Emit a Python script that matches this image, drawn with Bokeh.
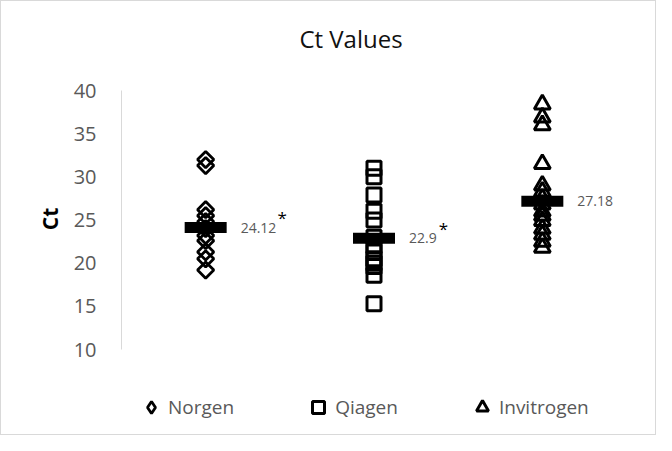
import numpy as np
from bokeh.plotting import figure
from bokeh.models import (Range1d, FactorRange, FixedTicker, Legend, LegendItem,
                          ColumnDataSource)
from bokeh.core.properties import value
from bokeh.embed import file_html
from bokeh.resources import INLINE

# ---- data ----
categories = ["Norgen", "Qiagen", "Invitrogen"]
norgen_ct = [32.0, 31.3, 26.2, 25.5, 24.8, 24.0, 23.2, 22.6, 21.3, 20.5, 19.2]
qiagen_ct = [31.0, 30.0, 27.9, 26.0, 25.0, 23.0, 22.0, 21.3, 20.5, 20.0, 19.6, 18.6, 15.3]
invitrogen_ct = [38.4, 36.9, 36.0, 31.5, 29.0, 28.3, 27.5, 26.8, 26.0, 25.5, 24.9,
                 24.0, 23.3, 22.5, 21.8]
mean_ct = [24.12, 22.9, 27.18]
mean_labels = ["24.12", "22.9", "27.18"]
significance = ["*", "*", ""]
y_ticks = [10, 15, 20, 25, 30, 35, 40]
y_min, y_max = 10, 40
chart_title = "Ct Values"

FONT = "Open Sans"
GRAY = "#595959"

# layout (pixels): the frame covers the full height; the axis is bounded to 10..40
W, H = 656, 435
ROW_TOP, ROW_BOTTOM = 89, 348          # pixel rows of 40 and 10
px_per_unit = (ROW_BOTTOM - ROW_TOP) / (y_max - y_min)
y_start = y_min - (H - ROW_BOTTOM) / px_per_unit
y_end = y_max + ROW_TOP / px_per_unit

p = figure(width=W, height=H,
           x_range=FactorRange(factors=categories, range_padding=0),
           y_range=Range1d(y_start, y_end),
           output_backend="svg", toolbar_location=None,
           min_border_left=120, min_border_right=31,
           min_border_top=0, min_border_bottom=0)
p.styles = {"border": "1px solid #d9d9d9"}
p.outline_line_color = None
p.grid.visible = False
p.xaxis.visible = False
# a range far away from the data, used only by the legend's diamond swatch
p.extra_y_ranges = {"legend_only": Range1d(10 * y_max, 20 * y_max)}

yax = p.yaxis[0]
yax.bounds = (y_min, y_max)
yax.ticker = FixedTicker(ticks=y_ticks)
yax.axis_line_color = "#d9d9d9"
yax.major_tick_line_color = None
yax.minor_tick_line_color = None
yax.major_label_standoff = 19
yax.major_label_text_font = FONT
yax.major_label_text_font_size = "20px"
yax.major_label_text_color = GRAY
yax.axis_label = "Ct"
yax.axis_label_text_font = FONT
yax.axis_label_text_font_size = "21px"
yax.axis_label_text_font_style = "bold"
yax.axis_label_text_color = "#000000"
yax.axis_label_standoff = 7

# title (drawn as text at the top of the plot area)
p.text(x=[categories[1]], y=[y_end], text=[chart_title], x_offset=-23, y_offset=37,
       text_align="center", text_baseline="middle",
       text_font=value(FONT), text_font_size="24px", text_color="#111111")

# points
r_n = p.scatter(x=[categories[0]] * len(norgen_ct), y=norgen_ct, marker="square",
                angle=np.pi / 4, size=11.5, fill_color=None,
                line_color="black", line_width=2.8)
r_q = p.scatter(x=[categories[1]] * len(qiagen_ct), y=qiagen_ct, marker="square",
                size=14, fill_color=None, line_color="black", line_width=3)
r_i = p.scatter(x=[categories[2]] * len(invitrogen_ct), y=invitrogen_ct,
                marker="triangle", size=16, fill_color=None,
                line_color="black", line_width=3)
# legend swatch renderer (its points fall outside the visible range)
r_n_leg = p.scatter(x=[categories[0]] * len(norgen_ct), y=norgen_ct,
                    y_range_name="legend_only",
                    marker="diamond", fill_color=None,
                    line_color="black", line_width=2.8)

# means
p.rect(x=categories, y=mean_ct, width=42, height=11,
       width_units="screen", height_units="screen",
       fill_color="black", line_color=None)

src = ColumnDataSource(dict(
    x=categories, y=mean_ct, label=mean_labels, star=significance,
    star_dx=[35 + 7.1 * len(s) + 6 for s in mean_labels],
))
p.text(x="x", y="y", text="label", source=src, x_offset=35,
       text_align="left", text_baseline="middle",
       text_font=value(FONT), text_font_size="14px", text_color=GRAY)
p.text(x="x", y="y", text="star", source=src, x_offset="star_dx", y_offset=-10,
       text_align="center", text_baseline="middle",
       text_font=value(FONT), text_font_size="17px", text_color="#000000")

legend = Legend(items=[LegendItem(label="Norgen", renderers=[r_n_leg]),
                       LegendItem(label="Qiagen", renderers=[r_q]),
                       LegendItem(label="Invitrogen", renderers=[r_i])],
                orientation="horizontal", location=(15, 14),
                glyph_width=30, glyph_height=30, label_standoff=2, spacing=69,
                padding=0, margin=0, border_line_color=None,
                background_fill_alpha=0,
                label_text_font=FONT, label_text_font_size="19px",
                label_text_color=GRAY)
p.add_layout(legend)

open("out.html", "w").write(file_html(p, INLINE))
